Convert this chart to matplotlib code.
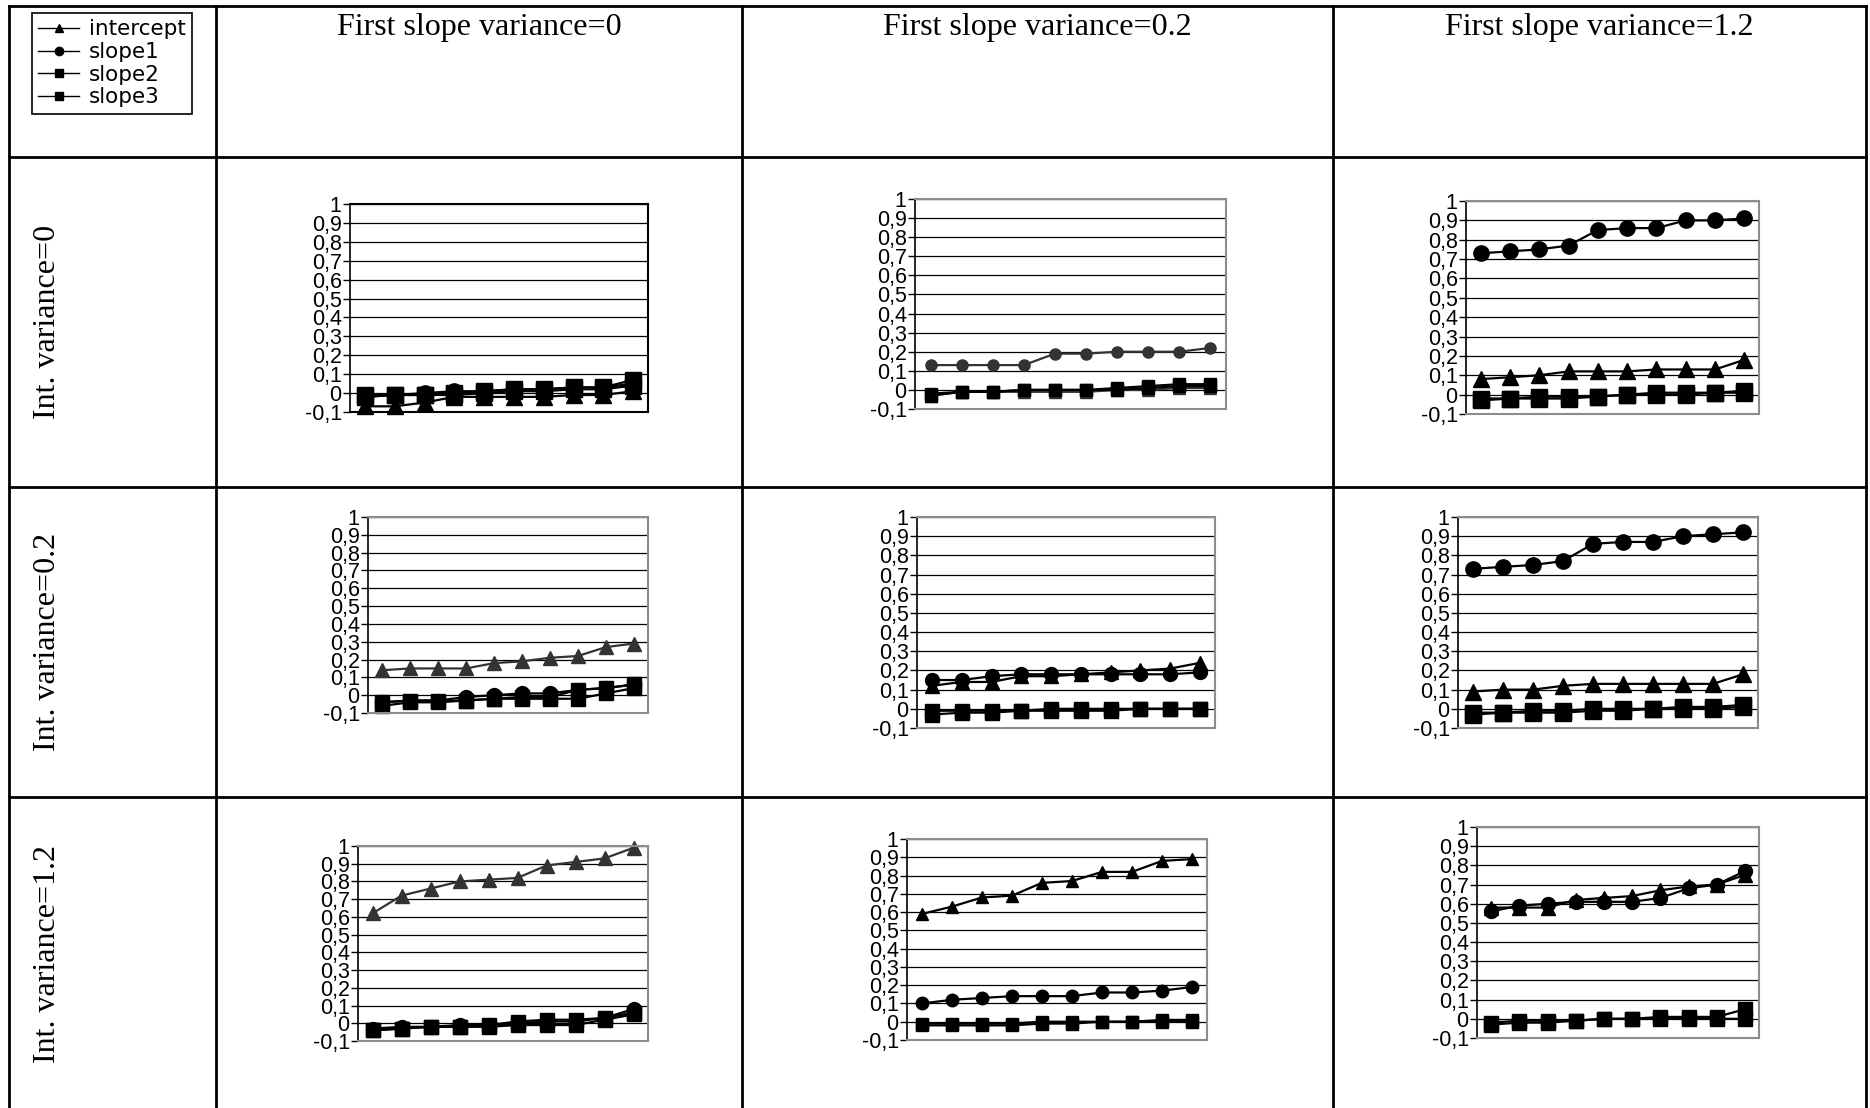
import matplotlib.pyplot as plt
from matplotlib.lines import Line2D
import numpy as np

# 10 estimates per series, sorted (x is just the rank)
x = list(range(1, 11))

# row: intercept variance = 0
iv0_sv0_intercept = [-0.07, -0.07, -0.05, -0.02, -0.02, -0.02, -0.02, -0.01, -0.01, 0.01]
iv0_sv0_slope1 = [-0.02, -0.01, 0.0, 0.01, 0.01, 0.02, 0.02, 0.03, 0.03, 0.05]
iv0_sv0_slope2 = [-0.01, -0.01, -0.01, 0.0, 0.01, 0.02, 0.02, 0.03, 0.03, 0.07]
iv0_sv0_slope3 = [-0.02, -0.01, -0.01, -0.01, 0.0, 0.01, 0.01, 0.02, 0.02, 0.04]

iv0_sv02_intercept = [-0.03, -0.01, -0.01, -0.01, -0.01, -0.01, 0.0, 0.0, 0.01, 0.01]
iv0_sv02_slope1 = [0.13, 0.13, 0.13, 0.13, 0.19, 0.19, 0.20, 0.20, 0.20, 0.22]
iv0_sv02_slope2 = [-0.03, -0.01, -0.01, 0.0, 0.0, 0.0, 0.01, 0.02, 0.03, 0.03]
iv0_sv02_slope3 = [-0.02, -0.01, -0.01, 0.0, 0.0, 0.0, 0.0, 0.01, 0.02, 0.02]

iv0_sv12_intercept = [0.08, 0.09, 0.10, 0.12, 0.12, 0.12, 0.13, 0.13, 0.13, 0.18]
iv0_sv12_slope1 = [0.73, 0.74, 0.75, 0.77, 0.85, 0.86, 0.86, 0.90, 0.90, 0.91]
iv0_sv12_slope2 = [-0.03, -0.02, -0.02, -0.02, -0.01, 0.0, 0.0, 0.0, 0.01, 0.01]
iv0_sv12_slope3 = [-0.02, -0.02, -0.01, -0.01, -0.01, 0.0, 0.01, 0.01, 0.01, 0.02]

# row: intercept variance = 0.2
iv02_sv0_intercept = [0.14, 0.15, 0.15, 0.15, 0.18, 0.19, 0.21, 0.22, 0.27, 0.29]
iv02_sv0_slope1 = [-0.04, -0.03, -0.03, -0.01, 0.0, 0.01, 0.01, 0.03, 0.04, 0.06]
iv02_sv0_slope2 = [-0.04, -0.03, -0.03, -0.03, -0.02, -0.01, -0.01, 0.03, 0.04, 0.06]
iv02_sv0_slope3 = [-0.06, -0.04, -0.04, -0.03, -0.02, -0.02, -0.02, -0.02, 0.01, 0.04]

iv02_sv02_intercept = [0.12, 0.14, 0.14, 0.17, 0.17, 0.18, 0.19, 0.20, 0.21, 0.24]
iv02_sv02_slope1 = [0.15, 0.15, 0.17, 0.18, 0.18, 0.18, 0.18, 0.18, 0.18, 0.19]
iv02_sv02_slope2 = [-0.03, -0.02, -0.02, -0.01, -0.01, -0.01, -0.01, 0.0, 0.0, 0.0]
iv02_sv02_slope3 = [-0.01, -0.01, -0.01, -0.01, 0.0, 0.0, 0.0, 0.0, 0.0, 0.0]

iv02_sv12_intercept = [0.09, 0.10, 0.10, 0.12, 0.13, 0.13, 0.13, 0.13, 0.13, 0.18]
iv02_sv12_slope1 = [0.73, 0.74, 0.75, 0.77, 0.86, 0.87, 0.87, 0.90, 0.91, 0.92]
iv02_sv12_slope2 = [-0.03, -0.02, -0.02, -0.02, -0.01, -0.01, 0.0, 0.0, 0.0, 0.01]
iv02_sv12_slope3 = [-0.02, -0.02, -0.01, -0.01, 0.0, 0.0, 0.0, 0.01, 0.01, 0.02]

# row: intercept variance = 1.2
iv12_sv0_intercept = [0.62, 0.72, 0.76, 0.80, 0.81, 0.82, 0.89, 0.91, 0.93, 0.99]
iv12_sv0_slope1 = [-0.03, -0.02, -0.02, -0.01, -0.01, 0.0, 0.01, 0.01, 0.03, 0.08]
iv12_sv0_slope2 = [-0.04, -0.03, -0.02, -0.02, -0.01, 0.01, 0.02, 0.02, 0.03, 0.06]
iv12_sv0_slope3 = [-0.04, -0.03, -0.02, -0.02, -0.02, -0.01, -0.01, -0.01, 0.02, 0.05]

iv12_sv02_intercept = [0.59, 0.63, 0.68, 0.69, 0.76, 0.77, 0.82, 0.82, 0.88, 0.89]
iv12_sv02_slope1 = [0.10, 0.12, 0.13, 0.14, 0.14, 0.14, 0.16, 0.16, 0.17, 0.19]
iv12_sv02_slope2 = [-0.01, -0.01, -0.01, -0.01, 0.0, 0.0, 0.0, 0.0, 0.01, 0.01]
iv12_sv02_slope3 = [-0.02, -0.02, -0.02, -0.02, -0.01, -0.01, 0.0, 0.0, 0.0, 0.0]

iv12_sv12_intercept = [0.58, 0.58, 0.58, 0.62, 0.63, 0.64, 0.67, 0.69, 0.70, 0.75]
iv12_sv12_slope1 = [0.56, 0.59, 0.60, 0.61, 0.61, 0.61, 0.63, 0.68, 0.70, 0.77]
iv12_sv12_slope2 = [-0.03, -0.02, -0.02, -0.01, 0.0, 0.0, 0.01, 0.01, 0.01, 0.05]
iv12_sv12_slope3 = [-0.02, -0.01, -0.01, -0.01, 0.0, 0.0, 0.0, 0.0, 0.0, 0.0]

series_names = ["intercept", "slope1", "slope2", "slope3"]
markers = ["^", "o", "s", "s"]
col_titles = ["First slope variance=0", "First slope variance=0.2", "First slope variance=1.2"]
row_titles = ["Int. variance=0", "Int. variance=0.2", "Int. variance=1.2"]
yticks = np.round(np.arange(-0.1, 1.001, 0.1), 1)
ytick_labels = ["0" if v == 0 else f"{v:g}".replace(".", ",") for v in yticks]

panels = [
    [(iv0_sv0_intercept, iv0_sv0_slope1, iv0_sv0_slope2, iv0_sv0_slope3),
     (iv0_sv02_intercept, iv0_sv02_slope1, iv0_sv02_slope2, iv0_sv02_slope3),
     (iv0_sv12_intercept, iv0_sv12_slope1, iv0_sv12_slope2, iv0_sv12_slope3)],
    [(iv02_sv0_intercept, iv02_sv0_slope1, iv02_sv0_slope2, iv02_sv0_slope3),
     (iv02_sv02_intercept, iv02_sv02_slope1, iv02_sv02_slope2, iv02_sv02_slope3),
     (iv02_sv12_intercept, iv02_sv12_slope1, iv02_sv12_slope2, iv02_sv12_slope3)],
    [(iv12_sv0_intercept, iv12_sv0_slope1, iv12_sv0_slope2, iv12_sv0_slope3),
     (iv12_sv02_intercept, iv12_sv02_slope1, iv12_sv02_slope2, iv12_sv02_slope3),
     (iv12_sv12_intercept, iv12_sv12_slope1, iv12_sv12_slope2, iv12_sv12_slope3)],
]

# layout, in pixels of the 1870x1108 picture: left, top, right, bottom of each plot area
W, H = 1870, 1108
boxes = [
    [(350, 204, 648, 412), (915, 199, 1226, 409), (1466, 201, 1759, 414)],
    [(368, 517, 648, 713), (917, 517, 1215, 728), (1458, 517, 1758, 728)],
    [(358, 846, 648, 1041), (907, 839, 1207, 1040), (1477, 827, 1759, 1038)],
]
msizes = [[11, 8, 11], [10, 10, 11], [10, 9, 10]]
gray_lines = {(0, 1): ["slope1", "intercept"], (1, 0): ["intercept"], (2, 0): ["intercept"]}

fig = plt.figure(figsize=(W / 100, H / 100), dpi=100)

for r in range(3):
    for c in range(3):
        left, top, right, bottom = boxes[r][c]
        ax = fig.add_axes([left / W, 1 - bottom / H, (right - left) / W, (bottom - top) / H])
        for name, marker, ys in zip(series_names, markers, panels[r][c]):
            color = "#333333" if name in gray_lines.get((r, c), []) else "black"
            ax.plot(x, ys, color=color, lw=1.6, marker=marker, markersize=msizes[r][c],
                    markerfacecolor=color, markeredgecolor=color, clip_on=False)
        ax.set_xlim(0.5, 10.5)
        ax.set_ylim(-0.1, 1.0)
        ax.set_yticks(yticks)
        ax.set_yticklabels(ytick_labels, family="Liberation Sans", fontsize=15.5)
        ax.tick_params(axis="y", direction="out", length=5, width=1, pad=1)
        ax.set_xticks([])
        ax.set_axisbelow(True)
        ax.yaxis.grid(True, color="black", lw=0.9)
        frame = "black" if (r, c) == (0, 0) else "#8c8c8c"
        for side in ["top", "right", "bottom"]:
            ax.spines[side].set_color(frame)
            ax.spines[side].set_linewidth(1.5)
        ax.spines["left"].set_color("black")
        ax.spines["left"].set_linewidth(1.2)

# table lines
xs_lines = [9, 216, 742, 1333, 1866]
ys_lines = [6, 157, 487, 797]
for xv in xs_lines:
    fig.add_artist(Line2D([xv / W, xv / W], [1 - 6 / H, 0], color="black", lw=2))
for yv in ys_lines:
    fig.add_artist(Line2D([9 / W, 1866 / W], [1 - yv / H, 1 - yv / H], color="black", lw=2))

# column and row headers
for i, t in enumerate(col_titles):
    xc = (xs_lines[i + 1] + xs_lines[i + 2]) / 2
    fig.text(xc / W, 1 - 28 / H, t, ha="center", va="center", family="Liberation Serif", fontsize=23)
row_mid = [322, 642, 954]
for i, t in enumerate(row_titles):
    fig.text(48 / W, 1 - row_mid[i] / H, t, rotation=90, ha="center", va="center",
             family="Liberation Serif", fontsize=23)

handles = [Line2D([], [], color="black", lw=1, marker=m, markersize=6) for m in markers]
leg = fig.legend(handles, series_names, loc="upper left", bbox_to_anchor=(32 / W, 1 - 13 / H),
                 frameon=True, fancybox=False, edgecolor="black", framealpha=1,
                 prop={"family": "DejaVu Sans", "size": 15.5}, handlelength=1.9,
                 handletextpad=0.45, labelspacing=0.12, borderpad=0.3, borderaxespad=0)
leg.get_frame().set_linewidth(1.2)

fig.savefig("out.png", dpi=100)
